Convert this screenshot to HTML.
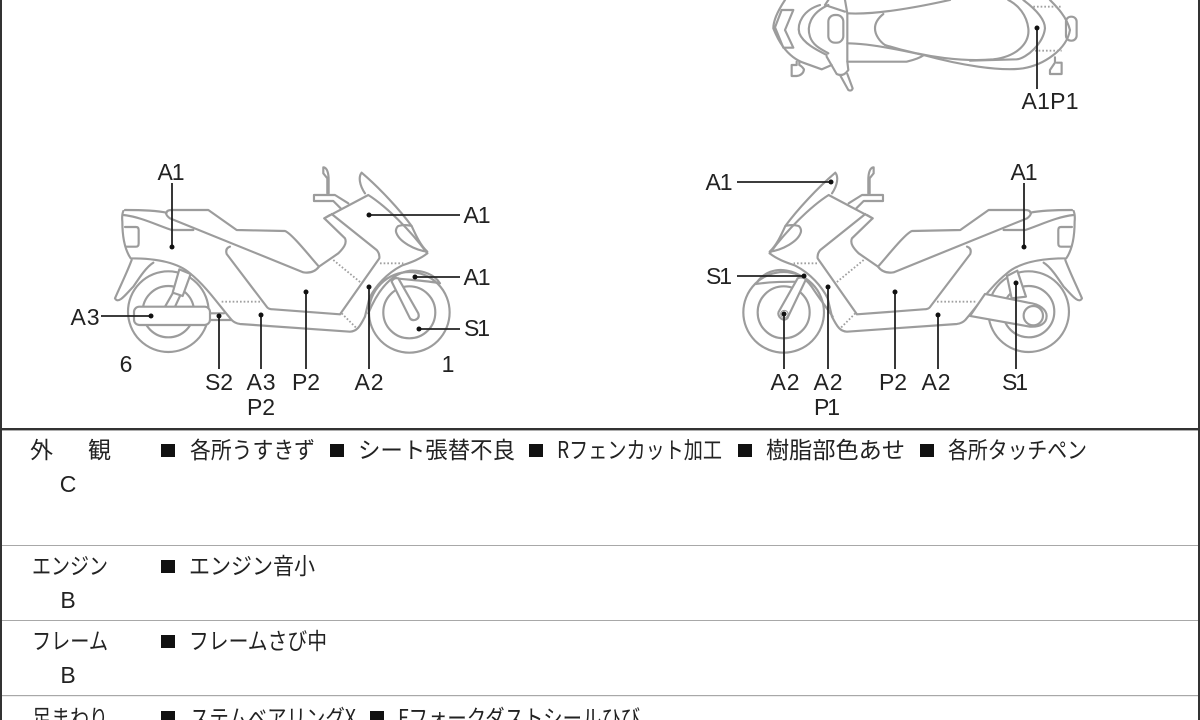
<!DOCTYPE html>
<html lang="ja"><head><meta charset="utf-8"><title>車両状態図</title>
<style>
html,body{margin:0;padding:0;background:#fff;width:1200px;height:720px;overflow:hidden}
svg{display:block;filter:blur(.35px)}
text{font-family:"Liberation Sans","Noto Sans CJK JP",sans-serif;fill:#222}
.l{font-size:23px;text-anchor:middle}
.t{font-family:"Noto Sans CJK JP","Liberation Sans",sans-serif;font-size:23px;font-weight:400;fill:#222}
.g{fill:none;stroke:#9c9c9c;stroke-width:6.5;stroke-linejoin:round;stroke-linecap:round}
.d{fill:none;stroke:#a0a0a0;stroke-width:5.5;stroke-dasharray:5 6}
.w{fill:#fff}
.n{stroke:#222;stroke-width:1.8;fill:none}
</style></head><body>
<svg width="1200" height="720" viewBox="0 0 1200 720" xmlns="http://www.w3.org/2000/svg">
<defs>
<g id="body">
<path class="g" d="M825,130C808,105 805,80 815,68C870,115 930,180 965,228"/>
<path class="g" d="M672,135H735L775,160M672,135V153H730L752,175"/>
<path class="g" d="M712,130V85L700,70V52C712,52 716,72 716,90V130"/>
<path class="g" d="M703,205L835,135C890,170 960,240 1012,310"/>
<path class="g" d="M925,228C945,222 965,228 965,228C975,250 990,285 1012,305C975,300 925,275 918,245Q917,235 925,228Z"/>
<path class="g" d="M720,195L703,205L765,265C772,280 760,295 745,310L687,350"/>
<path class="g" d="M420,290Q405,295 410,312L530,470Q535,478 550,478L750,493L868,325Q870,312 860,300L725,192"/>
<path class="g" d="M228,190Q230,180 245,180H355L440,240L585,243C605,250 660,320 687,350Q670,372 640,367L240,205Q230,198 228,190Z"/>
<path class="g" d="M1012,310C990,328 960,338 935,347C890,370 855,410 838,445L825,500"/>
<path class="g" d="M105,180C150,180 200,182 230,188M100,195C150,200 200,225 245,240H310"/>
<path class="g" d="M100,183Q95,195 97,215C97,260 105,300 122,325C190,325 260,335 300,370C350,410 390,470 425,510Q435,520 450,522L780,545C800,545 810,530 825,500"/>
<path class="g" d="M105,231H138Q146,231 146,240V280Q146,290 138,290H108"/>
<path class="g" d="M125,330C110,370 90,410 75,445C85,465 110,430 130,410C150,380 170,350 190,338"/>
<path class="d" d="M395,455H510M730,330L815,400M870,340H940M755,490L800,535"/>
</g>
<g id="fw">
<circle class="g" cx="958" cy="487" r="121"/>
<circle class="g" cx="958" cy="487" r="78"/>
</g>
</defs>

<!-- left bike -->
<g transform="translate(90,150) scale(.3333)">
<circle class="g" cx="235" cy="485" r="121"/>
<circle class="g" cx="235" cy="485" r="77"/>
<use href="#body"/>
<use href="#fw"/>
<path class="g w" d="M268,358L302,372L278,438L248,428ZM248,430L225,470M270,438L255,470"/>
<rect class="g w" x="132" y="470" width="228" height="55" rx="16"/>
<path class="g" d="M360,490H402M360,510H425"/>
<path class="g" d="M835,490C860,430 900,370 960,362C1000,360 1035,375 1050,400C1010,392 960,390 915,385"/>
<path class="g w" d="M905,395Q910,382 925,385L985,490Q990,505 975,510Q965,512 960,505Z"/>
</g>

<!-- right bike -->
<g transform="translate(700,150) scale(.3333)">
<g transform="translate(1221,0) scale(-1,1)">
<circle class="g" cx="235" cy="485" r="121"/>
<circle class="g" cx="235" cy="485" r="77"/>
<use href="#body"/>
</g>
<use href="#fw" transform="translate(1209,0) scale(-1,1)"/>
<path class="g" d="M168,402C190,365 230,355 262,362C295,368 320,385 345,425C365,455 385,480 398,500M168,402C215,395 260,395 310,395"/>
<path class="g w" d="M293,385Q305,378 318,388L262,505Q250,515 238,500Q232,490 238,482Z"/>
<circle class="g" cx="253" cy="492" r="11" style="fill:#fff;stroke-width:3"/>
<path class="g w" d="M921,378L952,362L978,440L935,445Z"/>
<path class="g w" d="M855,432L985,458C1020,462 1040,480 1040,498C1040,520 1020,532 990,530L810,498Z"/>
<circle class="g w" cx="1000" cy="497" r="29"/>
</g>

<!-- top view -->
<g transform="translate(760,0) scale(.3333)">
<path class="g" d="M75,0C55,30 40,60 40,85C50,110 75,170 135,190L185,208L215,195"/>
<path class="g" d="M100,30H65L45,82L70,143H100L75,90Z"/>
<path class="g" d="M180,15C130,30 110,70 118,100C130,130 170,150 200,165"/>
<path class="g" d="M205,15C150,40 140,80 150,110C160,140 190,150 205,160"/>
<path class="g" d="M205,0L195,15L255,35M255,0L262,40V185L265,210Q250,232 230,222L200,170"/>
<rect class="g" x="205" y="45" width="45" height="83" rx="20"/>
<path class="g" d="M240,225L265,270Q275,275 278,265L262,222"/>
<path class="g" d="M262,40C350,45 480,20 570,0M345,85C345,65 360,50 370,42M345,85C345,105 360,125 375,135"/>
<path class="g" d="M262,130C320,130 400,145 490,165C600,195 720,215 790,205C850,195 920,150 930,90C920,50 890,20 870,0"/>
<path class="g" d="M262,185H440C470,178 485,170 492,165"/>
<path class="g" d="M375,135C500,175 620,185 700,178C770,170 810,130 805,85C800,45 775,15 745,0"/>
<path class="g" d="M790,0C830,30 855,60 855,85C850,130 800,175 770,178L630,182"/>
<rect class="g" x="918" y="50" width="32" height="72" rx="15"/>
<path class="d" d="M820,20H905M825,152H905"/>
<path class="g" d="M110,185V195H95V228H110Q130,225 132,208Q125,198 118,195V185"/>
<path class="g" d="M885,172V188L870,210V222H905V188H890"/>
</g>

<!-- leader lines -->
<g class="n">
<path d="M172,183V247M369,215H460M415,277H460M419,329H460M101,316H151M219,316V369M261,315V369M306,292V369M369,287V369"/>
<path d="M737,182H831M737,276H804M1024,183V247M784,314V369M828,287V369M895,292V369M938,315V369M1016,283V369M1037,28V89"/>
</g>
<g fill="#111">
<circle cx="172" cy="247" r="2.5"/><circle cx="369" cy="215" r="2.5"/><circle cx="415" cy="277" r="2.5"/><circle cx="419" cy="329" r="2.5"/><circle cx="151" cy="316" r="2.5"/><circle cx="219" cy="316" r="2.5"/><circle cx="261" cy="315" r="2.5"/><circle cx="306" cy="292" r="2.5"/><circle cx="369" cy="287" r="2.5"/>
<circle cx="831" cy="182" r="2.5"/><circle cx="804" cy="276" r="2.5"/><circle cx="1024" cy="247" r="2.5"/><circle cx="784" cy="314" r="2.5"/><circle cx="828" cy="287" r="2.5"/><circle cx="895" cy="292" r="2.5"/><circle cx="938" cy="315" r="2.5"/><circle cx="1016" cy="283" r="2.5"/><circle cx="1037" cy="28" r="2.5"/>
</g>

<!-- labels -->
<g class="lbl">
<text class="l" x="171" y="180" textLength="27">A1</text>
<text class="l" x="477" y="223" textLength="27">A1</text>
<text class="l" x="477" y="285" textLength="27">A1</text>
<text class="l" x="477" y="336" textLength="26">S1</text>
<text class="l" x="85" y="325" textLength="29">A3</text>
<text class="l" x="126" y="372">6</text>
<text class="l" x="448" y="372">1</text>
<text class="l" x="219" y="390" textLength="28">S2</text>
<text class="l" x="261" y="390" textLength="29">A3</text>
<text class="l" x="261" y="415" textLength="28">P2</text>
<text class="l" x="306" y="390" textLength="28">P2</text>
<text class="l" x="369" y="390" textLength="29">A2</text>
<text class="l" x="719" y="190" textLength="27">A1</text>
<text class="l" x="719" y="284" textLength="26">S1</text>
<text class="l" x="1024" y="180" textLength="27">A1</text>
<text class="l" x="785" y="390" textLength="29">A2</text>
<text class="l" x="828" y="390" textLength="29">A2</text>
<text class="l" x="827" y="415" textLength="26">P1</text>
<text class="l" x="893" y="390" textLength="28">P2</text>
<text class="l" x="936" y="390" textLength="29">A2</text>
<text class="l" x="1015" y="390" textLength="26">S1</text>
<text class="l" x="1050" y="109" textLength="57">A1P1</text>
</g>

<!-- table rules -->
<rect x="0" y="428" width="1200" height="2.4" fill="#333"/>
<rect x="0" y="0" width="2" height="720" fill="#333"/>
<rect x="1198" y="0" width="2" height="720" fill="#333"/>
<g fill="#a8a8a8"><rect x="2" y="545" width="1196" height="1"/><rect x="2" y="620" width="1196" height="1"/><rect x="2" y="695" width="1196" height="1.2"/></g>

<!-- table text -->
<g fill="#111">
<rect x="161" y="444" width="14" height="13"/><rect x="330" y="444" width="14" height="13"/><rect x="529" y="444" width="14" height="13"/><rect x="738" y="444" width="14" height="13"/><rect x="920" y="444" width="14" height="13"/>
<rect x="161" y="560" width="14" height="13"/><rect x="161" y="635" width="14" height="13"/><rect x="161" y="711" width="14" height="13"/><rect x="370" y="711" width="14" height="13"/>
</g>
<text class="t" x="30" y="458">外</text><text class="t" x="88" y="458">観</text>
<text class="l" x="68" y="492">C</text>
<text class="t" x="190" y="458" textLength="125" lengthAdjust="spacingAndGlyphs">各所うすきず</text>
<text class="t" x="358" y="458" textLength="157" lengthAdjust="spacingAndGlyphs">シート張替不良</text>
<text class="t" x="557" y="458" textLength="165" lengthAdjust="spacingAndGlyphs">Rフェンカット加工</text>
<text class="t" x="766" y="458" textLength="139" lengthAdjust="spacingAndGlyphs">樹脂部色あせ</text>
<text class="t" x="948" y="458" textLength="139" lengthAdjust="spacingAndGlyphs">各所タッチペン</text>
<text class="t" x="32" y="574" textLength="76" lengthAdjust="spacingAndGlyphs">エンジン</text>
<text class="l" x="68" y="608">B</text>
<text class="t" x="189" y="574" textLength="126" lengthAdjust="spacingAndGlyphs">エンジン音小</text>
<text class="t" x="32" y="649" textLength="76" lengthAdjust="spacingAndGlyphs">フレーム</text>
<text class="l" x="68" y="683">B</text>
<text class="t" x="189" y="649" textLength="138" lengthAdjust="spacingAndGlyphs">フレームさび中</text>
<text class="t" x="32" y="726" textLength="76" lengthAdjust="spacingAndGlyphs">足まわり</text>
<text class="t" x="190" y="726" textLength="166" lengthAdjust="spacingAndGlyphs">ステムベアリングX</text>
<text class="t" x="398" y="726" textLength="242" lengthAdjust="spacingAndGlyphs">Fフォークダストシールひび</text>
</svg>
</body></html>
